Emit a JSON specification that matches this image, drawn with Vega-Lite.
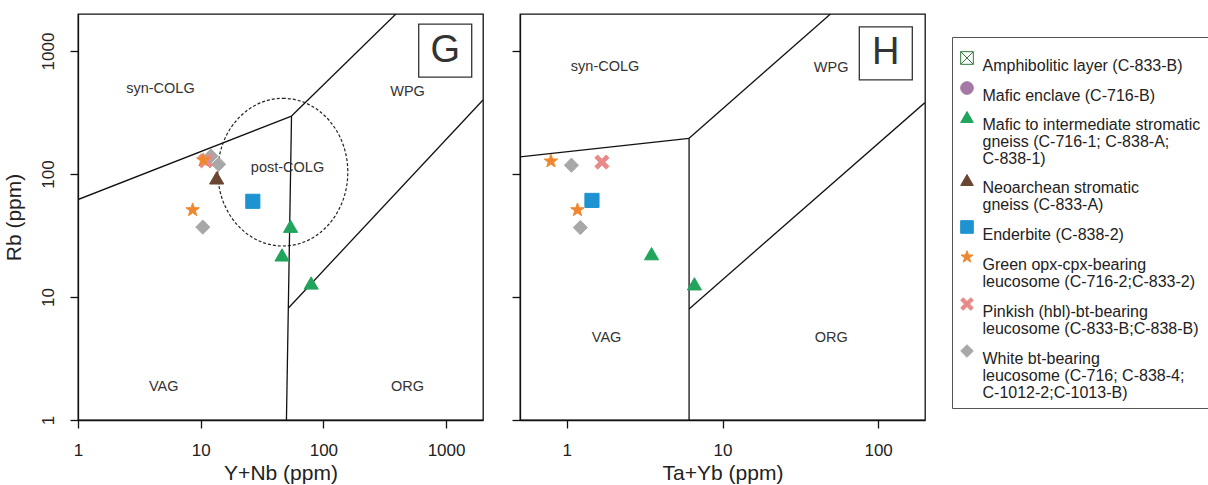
{
  "$schema": "https://vega.github.io/schema/vega-lite/v6.json",
  "padding": {"left": 2, "top": 13, "right": 0, "bottom": 0},
  "config": {
    "font": "Liberation Sans",
    "style": {"guide-label": {"lineHeight": 17}},
    "view": {"stroke": "#111", "strokeWidth": 1.3},
    "axis": {"grid": false, "domainColor": "#111", "domainWidth": 1.3, "tickColor": "#111", "tickWidth": 1.3, "tickSize": 8, "labelColor": "#222", "labelFontSize": 17, "titleColor": "#222", "titleFontSize": 21, "titleFontWeight": "normal", "labelFont": "Liberation Sans", "titleFont": "Liberation Sans", "labelFlush": false},
    "legend": {"labelFontSize": 16, "labelColor": "#222", "labelFont": "Liberation Sans", "labelBaseline": "top", "labelLimit": 400, "labelOffset": 7.5, "symbolSize": 160, "symbolStrokeWidth": 1, "rowPadding": 5, "padding": 7, "strokeColor": "#555", "fillColor": "#ffffff", "titleFontSize": 6, "titlePadding": 0, "symbolOffset": 0}
  },
  "datasets": {
    "g_lines": [
      {"seg": "A", "x": 1, "y": 62}, {"seg": "A", "x": 55, "y": 296},
      {"seg": "B", "x": 55, "y": 296}, {"seg": "B", "x": 390, "y": 2000},
      {"seg": "C", "x": 50, "y": 1}, {"seg": "C", "x": 55, "y": 296},
      {"seg": "D", "x": 51.7, "y": 8.1}, {"seg": "D", "x": 2000, "y": 400}
    ],
    "h_lines": [
      {"seg": "A", "x": 0.5, "y": 138}, {"seg": "A", "x": 6.1, "y": 195},
      {"seg": "B", "x": 6.1, "y": 195}, {"seg": "B", "x": 49.4, "y": 2000},
      {"seg": "C", "x": 6.1, "y": 1}, {"seg": "C", "x": 6.1, "y": 195},
      {"seg": "D", "x": 6.1, "y": 8}, {"seg": "D", "x": 200, "y": 381}
    ],
    "g_ellipse": [{"x": 46.7, "y": 103.5}],
    "g_labels": [
      {"x": 4.7, "y": 490, "label": "syn-COLG"},
      {"x": 485, "y": 465, "label": "WPG"},
      {"x": 51, "y": 112, "label": "post-COLG"},
      {"x": 5.0, "y": 1.87, "label": "VAG"},
      {"x": 485, "y": 1.87, "label": "ORG"}
    ],
    "h_labels": [
      {"x": 1.76, "y": 743, "label": "syn-COLG"},
      {"x": 49.9, "y": 726, "label": "WPG"},
      {"x": 1.8, "y": 4.63, "label": "VAG"},
      {"x": 50, "y": 4.63, "label": "ORG"}
    ],
    "g_tag": [{"x": 984, "y": 1009, "label": "G"}],
    "h_tag": [{"x": 112, "y": 958, "label": "H"}],
    "g_pts": [
      {"series": "White bt-bearing leucosome (C-716; C-838-4; C-1012-2;C-1013-B)", "x": 12.1, "y": 140},
      {"series": "White bt-bearing leucosome (C-716; C-838-4; C-1012-2;C-1013-B)", "x": 14.0, "y": 120},
      {"series": "White bt-bearing leucosome (C-716; C-838-4; C-1012-2;C-1013-B)", "x": 10.4, "y": 37},
      {"series": "Pinkish (hbl)-bt-bearing leucosome (C-833-B;C-838-B)", "x": 11, "y": 128},
      {"series": "Green opx-cpx-bearing leucosome (C-716-2;C-833-2)", "x": 10.5, "y": 130},
      {"series": "Green opx-cpx-bearing leucosome (C-716-2;C-833-2)", "x": 8.6, "y": 51},
      {"series": "Neoarchean stromatic gneiss (C-833-A)", "x": 13.5, "y": 93},
      {"series": "Enderbite (C-838-2)", "x": 26.6, "y": 60},
      {"series": "Mafic to intermediate stromatic gneiss (C-716-1; C-838-A; C-838-1)", "x": 54, "y": 37.6},
      {"series": "Mafic to intermediate stromatic gneiss (C-716-1; C-838-A; C-838-1)", "x": 46, "y": 22},
      {"series": "Mafic to intermediate stromatic gneiss (C-716-1; C-838-A; C-838-1)", "x": 79.5, "y": 13}
    ],
    "h_pts": [
      {"series": "Green opx-cpx-bearing leucosome (C-716-2;C-833-2)", "x": 0.79, "y": 127},
      {"series": "Green opx-cpx-bearing leucosome (C-716-2;C-833-2)", "x": 1.17, "y": 51},
      {"series": "White bt-bearing leucosome (C-716; C-838-4; C-1012-2;C-1013-B)", "x": 1.07, "y": 118},
      {"series": "White bt-bearing leucosome (C-716; C-838-4; C-1012-2;C-1013-B)", "x": 1.22, "y": 36.7},
      {"series": "Pinkish (hbl)-bt-bearing leucosome (C-833-B;C-838-B)", "x": 1.68, "y": 125},
      {"series": "Enderbite (C-838-2)", "x": 1.45, "y": 61},
      {"series": "Mafic to intermediate stromatic gneiss (C-716-1; C-838-A; C-838-1)", "x": 3.5, "y": 22.5},
      {"series": "Mafic to intermediate stromatic gneiss (C-716-1; C-838-A; C-838-1)", "x": 6.6, "y": 12.8}
    ]
  },
  "resolve": {"scale": {"x": "independent", "y": "independent", "shape": "shared", "fill": "shared", "stroke": "shared"}},
  "spacing": 26,
  "hconcat": [
    {
      "width": 405,
      "height": 406,
      "layer": [
        {
          "data": {"name": "g_lines"},
          "mark": {"type": "line", "color": "#111", "strokeWidth": 1.3, "clip": true},
          "encoding": {
            "x": {"field": "x", "type": "quantitative", "scale": {"type": "log", "domain": [1, 2000], "nice": false}, "axis": {"values": [1, 10, 100, 1000], "format": "d", "title": "Y+Nb (ppm)", "labelPadding": 14, "titlePadding": 4}},
            "y": {"field": "y", "type": "quantitative", "scale": {"type": "log", "domain": [1, 2000], "nice": false}, "axis": {"values": [1, 10, 100, 1000], "format": "d", "title": "Rb (ppm)", "labelAngle": -90, "labelAlign": "center", "labelBaseline": "bottom", "labelPadding": 13, "titlePadding": 14.5}},
            "detail": {"field": "seg", "type": "nominal"}
          }
        },
        {
          "data": {"name": "g_ellipse"},
          "mark": {"type": "point", "shape": "M0,-1.136A1,1.136,0,1,1,0,1.136A1,1.136,0,1,1,0,-1.136Z", "size": 16900, "filled": false, "stroke": "#222", "strokeWidth": 1.2, "strokeDash": [3, 2], "opacity": 1},
          "encoding": {"x": {"field": "x", "type": "quantitative"}, "y": {"field": "y", "type": "quantitative"}}
        },
        {
          "data": {"name": "g_labels"},
          "mark": {"type": "text", "fontSize": 14.5, "color": "#333"},
          "encoding": {"x": {"field": "x", "type": "quantitative"}, "y": {"field": "y", "type": "quantitative"}, "text": {"field": "label"}}
        },
        {
          "data": {"name": "g_tag"},
          "mark": {"type": "point", "shape": "square", "size": 2809, "filled": false, "stroke": "#333", "strokeWidth": 1.3, "opacity": 1},
          "encoding": {"x": {"field": "x", "type": "quantitative"}, "y": {"field": "y", "type": "quantitative"}}
        },
        {
          "data": {"name": "g_tag"},
          "mark": {"type": "text", "fontSize": 38, "color": "#333"},
          "encoding": {"x": {"field": "x", "type": "quantitative"}, "y": {"field": "y", "type": "quantitative"}, "text": {"field": "label"}}
        },
        {
          "data": {"name": "g_pts"},
          "mark": {"type": "point", "filled": true, "size": 200, "opacity": 1, "strokeWidth": 1},
          "encoding": {
            "x": {"field": "x", "type": "quantitative"},
            "y": {"field": "y", "type": "quantitative"},
            "shape": {"field": "series", "type": "nominal",
              "scale": {"domain": ["Amphibolitic layer (C-833-B)", "Mafic enclave (C-716-B)", "Mafic to intermediate stromatic gneiss (C-716-1; C-838-A; C-838-1)", "Neoarchean stromatic gneiss (C-833-A)", "Enderbite (C-838-2)", "Green opx-cpx-bearing leucosome (C-716-2;C-833-2)", "Pinkish (hbl)-bt-bearing leucosome (C-833-B;C-838-B)", "White bt-bearing leucosome (C-716; C-838-4; C-1012-2;C-1013-B)"],
                "range": ["M-1,-1H1V1H-1Z M-1,-1L1,1 M1,-1L-1,1", "circle", "triangle-up", "triangle-up", "square", "M0,-1L0.235,-0.324L0.951,-0.309L0.38,0.124L0.588,0.809L0,0.4L-0.588,0.809L-0.38,0.124L-0.951,-0.309L-0.235,-0.324Z", "M-1,-0.6L-0.6,-1L0,-0.4L0.6,-1L1,-0.6L0.4,0L1,0.6L0.6,1L0,0.4L-0.6,1L-1,0.6L-0.4,0Z", "diamond"]},
              "legend": {"orient": "none", "legendX": 874, "legendY": 23, "title": " ", "direction": "vertical",
                "labelExpr": "datum.label == 'Mafic to intermediate stromatic gneiss (C-716-1; C-838-A; C-838-1)' ? ['Mafic to intermediate stromatic', 'gneiss (C-716-1; C-838-A;', 'C-838-1)'] : datum.label == 'Neoarchean stromatic gneiss (C-833-A)' ? ['Neoarchean stromatic', 'gneiss (C-833-A)'] : datum.label == 'Green opx-cpx-bearing leucosome (C-716-2;C-833-2)' ? ['Green opx-cpx-bearing', 'leucosome (C-716-2;C-833-2)'] : datum.label == 'Pinkish (hbl)-bt-bearing leucosome (C-833-B;C-838-B)' ? ['Pinkish (hbl)-bt-bearing', 'leucosome (C-833-B;C-838-B)'] : datum.label == 'White bt-bearing leucosome (C-716; C-838-4; C-1012-2;C-1013-B)' ? ['White bt-bearing', 'leucosome (C-716; C-838-4;', 'C-1012-2;C-1013-B)'] : datum.label"}
            },
            "fill": {"field": "series", "type": "nominal",
              "scale": {"domain": ["Amphibolitic layer (C-833-B)", "Mafic enclave (C-716-B)", "Mafic to intermediate stromatic gneiss (C-716-1; C-838-A; C-838-1)", "Neoarchean stromatic gneiss (C-833-A)", "Enderbite (C-838-2)", "Green opx-cpx-bearing leucosome (C-716-2;C-833-2)", "Pinkish (hbl)-bt-bearing leucosome (C-833-B;C-838-B)", "White bt-bearing leucosome (C-716; C-838-4; C-1012-2;C-1013-B)"],
                "range": ["#ffffff", "#a678a6", "#21a45c", "#6a4532", "#1d93d2", "#f0872e", "#e98a8a", "#a8a8a8"]}},
            "stroke": {"field": "series", "type": "nominal",
              "scale": {"domain": ["Amphibolitic layer (C-833-B)", "Mafic enclave (C-716-B)", "Mafic to intermediate stromatic gneiss (C-716-1; C-838-A; C-838-1)", "Neoarchean stromatic gneiss (C-833-A)", "Enderbite (C-838-2)", "Green opx-cpx-bearing leucosome (C-716-2;C-833-2)", "Pinkish (hbl)-bt-bearing leucosome (C-833-B;C-838-B)", "White bt-bearing leucosome (C-716; C-838-4; C-1012-2;C-1013-B)"],
                "range": ["#2f7a3c", "#a678a6", "#21a45c", "#6a4532", "#1d93d2", "#f0872e", "#e98a8a", "#a8a8a8"]}}
          }
        }
      ]
    },
    {
      "width": 405,
      "height": 406,
      "layer": [
        {
          "data": {"name": "h_lines"},
          "mark": {"type": "line", "color": "#111", "strokeWidth": 1.3, "clip": true},
          "encoding": {
            "x": {"field": "x", "type": "quantitative", "scale": {"type": "log", "domain": [0.5, 200], "nice": false}, "axis": {"values": [1, 10, 100], "format": "d", "title": "Ta+Yb (ppm)", "labelPadding": 14, "titlePadding": 4}},
            "y": {"field": "y", "type": "quantitative", "scale": {"type": "log", "domain": [1, 2000], "nice": false}, "axis": {"values": [1, 10, 100, 1000], "labels": false, "title": null}},
            "detail": {"field": "seg", "type": "nominal"}
          }
        },
        {
          "data": {"name": "h_labels"},
          "mark": {"type": "text", "fontSize": 14.5, "color": "#333"},
          "encoding": {"x": {"field": "x", "type": "quantitative"}, "y": {"field": "y", "type": "quantitative"}, "text": {"field": "label"}}
        },
        {
          "data": {"name": "h_tag"},
          "mark": {"type": "point", "shape": "square", "size": 2809, "filled": false, "stroke": "#333", "strokeWidth": 1.3, "opacity": 1},
          "encoding": {"x": {"field": "x", "type": "quantitative"}, "y": {"field": "y", "type": "quantitative"}}
        },
        {
          "data": {"name": "h_tag"},
          "mark": {"type": "text", "fontSize": 38, "color": "#333"},
          "encoding": {"x": {"field": "x", "type": "quantitative"}, "y": {"field": "y", "type": "quantitative"}, "text": {"field": "label"}}
        },
        {
          "data": {"name": "h_pts"},
          "mark": {"type": "point", "filled": true, "size": 200, "opacity": 1, "strokeWidth": 1},
          "encoding": {
            "x": {"field": "x", "type": "quantitative"},
            "y": {"field": "y", "type": "quantitative"},
            "shape": {"field": "series", "type": "nominal"},
            "fill": {"field": "series", "type": "nominal"},
            "stroke": {"field": "series", "type": "nominal"}
          }
        }
      ]
    }
  ]
}
